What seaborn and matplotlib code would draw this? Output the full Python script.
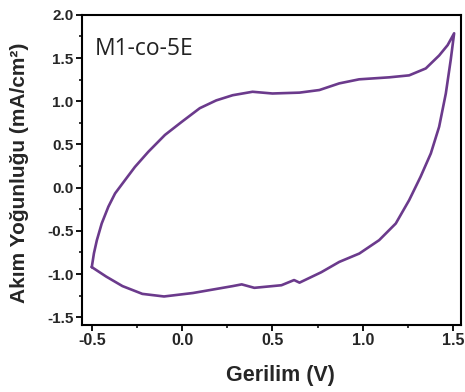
import matplotlib
matplotlib.use("Agg")
import matplotlib.pyplot as plt
from matplotlib.ticker import AutoMinorLocator
import seaborn as sns
import pandas as pd

# Forward (anodic) scan, upper branch
v_forward = [-0.50, -0.488, -0.472, -0.445, -0.408, -0.371, -0.316, -0.261, -0.187, -0.095,
             -0.003, 0.098, 0.189, 0.28, 0.39, 0.50, 0.65, 0.76, 0.87, 0.98,
             1.146, 1.257, 1.349, 1.423, 1.47, 1.506]
i_forward = [-0.92, -0.76, -0.61, -0.415, -0.22, -0.067, 0.087, 0.24, 0.415, 0.61,
             0.76, 0.92, 1.01, 1.07, 1.11, 1.09, 1.10, 1.13, 1.207, 1.254,
             1.277, 1.30, 1.38, 1.53, 1.65, 1.787]
# Reverse (cathodic) scan, lower branch
v_reverse = [1.487, 1.46, 1.423, 1.377, 1.32, 1.257, 1.183, 1.091, 0.981, 0.87,
             0.77, 0.65, 0.62, 0.55, 0.45, 0.40, 0.33, 0.28, 0.17, 0.06,
             -0.10, -0.22, -0.33, -0.42, -0.50]
i_reverse = [1.477, 1.09, 0.705, 0.396, 0.125, -0.145, -0.415, -0.608, -0.763, -0.86,
             -0.98, -1.10, -1.07, -1.13, -1.15, -1.16, -1.12, -1.14, -1.18, -1.22,
             -1.26, -1.23, -1.14, -1.03, -0.92]

x_ticks = [-0.5, 0.0, 0.5, 1.0, 1.5]
y_ticks = [-1.5, -1.0, -0.5, 0.0, 0.5, 1.0, 1.5, 2.0]

df = pd.DataFrame({
    "V": v_forward + v_reverse,
    "J": i_forward + i_reverse,
})

sns.set_theme(style="ticks")
plt.rcParams['font.family'] = ['Liberation Sans', 'DejaVu Sans']

fig = plt.figure(figsize=(4.65, 3.92), dpi=100)
ax = fig.add_axes([0.176, 0.171, 0.815, 0.791])

sns.lineplot(data=df, x="V", y="J", sort=False, estimator=None,
             color="#6b3a8c", linewidth=1.9, ax=ax)

ax.set_xlim(-0.555, 1.543)
ax.set_ylim(-1.59, 2.0)
ax.set_xticks(x_ticks)
ax.set_yticks(y_ticks)
ax.set_xticklabels([f"{t:.1f}" for t in x_ticks], fontweight="bold", fontsize=11.5)
ax.set_yticklabels([f"{t:.1f}" for t in y_ticks], fontweight="bold", fontsize=11)
ax.xaxis.set_minor_locator(AutoMinorLocator(2))
ax.yaxis.set_minor_locator(AutoMinorLocator(2))
ax.tick_params(which="major", direction="out", length=4, width=1.3, color="black", pad=2)
ax.tick_params(which="minor", direction="out", length=2.5, width=1.1, color="black")
ax.tick_params(top=False, right=False)
for s in ax.spines.values():
    s.set_visible(True)
    s.set_linewidth(1.5)
    s.set_color("black")

ax.set_xlabel("Gerilim (V)", fontweight="bold", fontsize=15.5)
ax.set_ylabel("Akım Yoğunluğu (mA/cm²)", fontweight="bold", fontsize=15)
ax.xaxis.set_label_coords(0.525, -0.13)
ax.yaxis.set_label_coords(-0.14, 0.49)
ax.text(0.034, 0.87, "M1-co-5E", transform=ax.transAxes, fontsize=16.5,
        va="baseline", family=["Open Sans", "DejaVu Sans"], color="#222222")

fig.savefig("out.png", dpi=100)
